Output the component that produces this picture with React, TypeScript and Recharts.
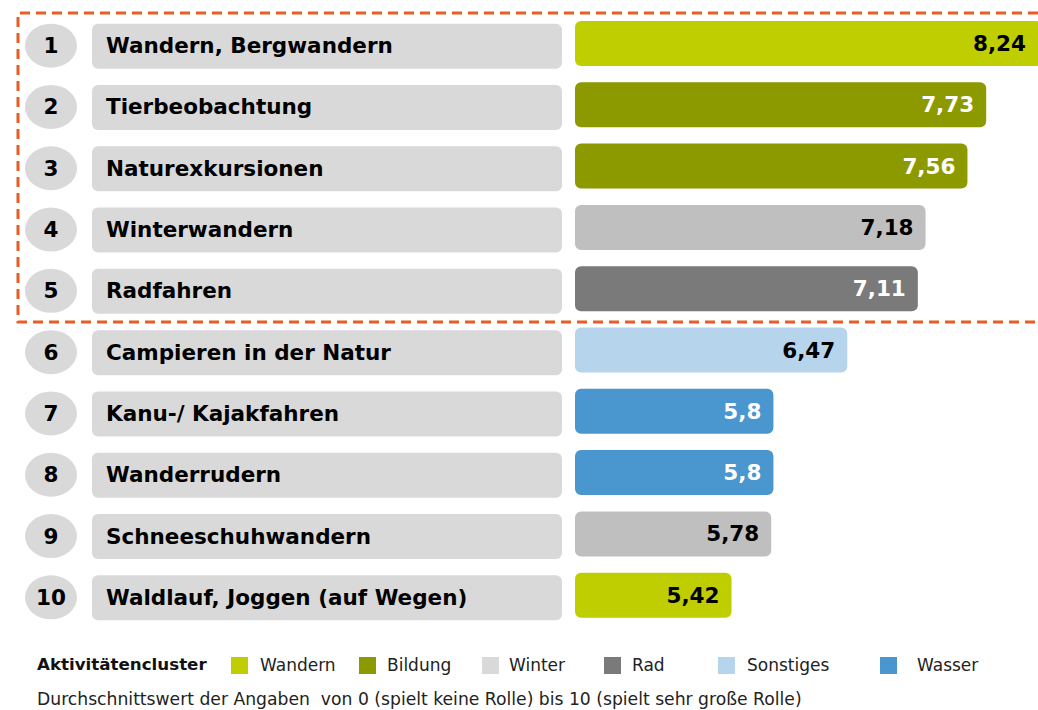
import { Bar, BarChart, Cell, LabelList, XAxis, YAxis } from "recharts";

const activities = [
  "Wandern, Bergwandern",
  "Tierbeobachtung",
  "Naturexkursionen",
  "Winterwandern",
  "Radfahren",
  "Campieren in der Natur",
  "Kanu-/ Kajakfahren",
  "Wanderrudern",
  "Schneeschuhwandern",
  "Waldlauf, Joggen (auf Wegen)",
];
const scores = [8.24, 7.73, 7.56, 7.18, 7.11, 6.47, 5.8, 5.8, 5.78, 5.42];
const clusters = [
  "Wandern",
  "Bildung",
  "Bildung",
  "Winter",
  "Rad",
  "Sonstiges",
  "Wasser",
  "Wasser",
  "Winter",
  "Wandern",
];
const clusterNames = ["Wandern", "Bildung", "Winter", "Rad", "Sonstiges", "Wasser"];

const BAR_COLORS: Record<string, string> = {
  Wandern: "#bfce00",
  Bildung: "#8c9a00",
  Winter: "#bfbfbf",
  Rad: "#7a7a7a",
  Sonstiges: "#b6d4ec",
  Wasser: "#4a96cf",
};
const SWATCH_COLORS: Record<string, string> = { ...BAR_COLORS, Winter: "#d9d9d9" };
const VALUE_TEXT: Record<string, string> = {
  Wandern: "#000",
  Bildung: "#fff",
  Winter: "#000",
  Rad: "#fff",
  Sonstiges: "#000",
  Wasser: "#fff",
};
// legend column positions (px from left) and gap swatch -> label
const LEGEND_X = [231, 359, 482, 604, 718, 880];
const LEGEND_GAP = [12, 11, 10, 11, 12, 20];

const FONT = "'DejaVu Sans', Verdana, sans-serif";
const data = activities.map((name, i) => ({ name, value: scores[i], cluster: clusters[i] }));

function RowTick(props: any) {
  const { y, payload } = props;
  const idx = activities.indexOf(payload.value);
  return (
    <g>
      <ellipse cx={51} cy={y + 2} rx={26} ry={22} fill="#d9d9d9" />
      <text x={51} y={y + 2} textAnchor="middle" dominantBaseline="central" fontFamily={FONT} fontWeight="bold" fontSize={21.5} fill="#000">
        {idx + 1}
      </text>
      <rect x={92} y={y - 20} width={470} height={45} rx={6} fill="#d9d9d9" />
      <text x={106} y={y + 2} dominantBaseline="central" fontFamily={FONT} fontWeight="bold" fontSize={21.5} fill="#000">
        {payload.value}
      </text>
    </g>
  );
}

function ValueLabel(props: any) {
  const { x, y, width, height, value, index } = props;
  const right = Math.min(x + width, 1038);
  return (
    <text
      x={right - 12}
      y={y + height / 2}
      textAnchor="end"
      dominantBaseline="central"
      fontFamily={FONT}
      fontWeight="bold"
      fontSize={21.5}
      fill={VALUE_TEXT[clusters[index]]}
    >
      {String(value).replace(".", ",")}
    </text>
  );
}

export default function App() {
  return (
    <div style={{ position: "absolute", left: 0, top: 0, width: 1038, height: 710, background: "#fff", fontFamily: FONT }}>
      <BarChart width={1038} height={626} data={data} layout="vertical" margin={{ top: 13, right: 0, bottom: 0, left: 0 }}>
        <XAxis type="number" hide domain={[4, 8.2]} allowDataOverflow />
        <YAxis type="category" dataKey="name" width={575} axisLine={false} tickLine={false} tick={<RowTick />} interval={0} />
        <Bar dataKey="value" barSize={45} radius={6} isAnimationActive={false}>
          {data.map((d) => (
            <Cell key={d.name} fill={BAR_COLORS[d.cluster]} />
          ))}
          <LabelList dataKey="value" content={<ValueLabel />} />
        </Bar>
      </BarChart>
      <svg width={1038} height={340} style={{ position: "absolute", left: 0, top: 0, pointerEvents: "none" }}>
        <path d="M1038 13 H18 V322 H1038" fill="none" stroke="#ee5a24" strokeWidth={3} strokeDasharray="10 6" />
      </svg>
      <div style={{ position: "absolute", left: 37, top: 654, fontSize: 16.7, fontWeight: "bold", color: "#111" }}>Aktivitätencluster</div>
      {clusterNames.map((c, i) => (
        <div key={c} style={{ position: "absolute", left: LEGEND_X[i], top: 655, display: "flex", alignItems: "center", fontSize: 17, color: "#222" }}>
          <span style={{ width: 17, height: 17, background: SWATCH_COLORS[c], marginRight: LEGEND_GAP[i] }} />
          <span>{c}</span>
        </div>
      ))}
      <div style={{ position: "absolute", left: 37, top: 689, fontSize: 17.2, color: "#222", whiteSpace: "pre" }}>
        Durchschnittswert der Angaben  von 0 (spielt keine Rolle) bis 10 (spielt sehr große Rolle)
      </div>
    </div>
  );
}
